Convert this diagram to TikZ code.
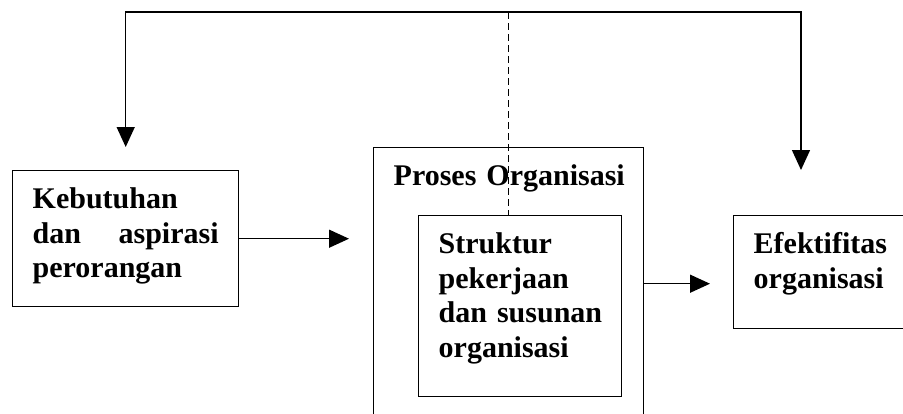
\documentclass[tikz,border=0pt]{standalone}
\usepackage{fontspec}
\setmainfont{Liberation Serif}
\usepackage{tikz}
\usetikzlibrary{positioning, arrows.meta}

\tikzset{
  box/.style={draw, line width=1.4pt, anchor=north west, inner xsep=20pt, inner ysep=0pt,
    align=left, text height=38pt,
    font=\fontsize{30}{34.5}\selectfont\bfseries},
  flow/.style={line width=1.4pt, -{Triangle[length=20pt,width=18pt]}}
}

\begin{document}
\begin{tikzpicture}[x=1pt, y=-1pt]
        \useasboundingbox (0,0) rectangle (903,413);
        \clip (0,0) rectangle (903,413);
        \node (kebutuhan) [box, text width=186pt, text depth=98pt] at (12,170)
          {Kebutuhan\\ dan\hfill aspirasi\\ perorangan};
        \node (proses) [box, text width=230pt, text depth=234pt] at (373,147)
          {\mbox{Proses Organisasi}};
        \node (struktur) [box, text width=163pt, text depth=143pt] at (418,215)
          {Struktur\\ pekerjaan\\ \mbox{dan susunan}\\ organisasi};
        \node (efektif) [box, text width=150pt, text depth=75pt] at (733,215)
          {Efektifitas\\ organisasi};
        \coordinate (topline) at (0,12);
        \coordinate (fb) at (proses.north |- topline);
        \draw [line width=1.4pt, dash pattern=on 7pt off 4pt] (fb) -- (fb |- struktur.north);
        \draw [flow, shorten >=23pt] (fb) -| (kebutuhan.north);
        \draw [flow, shorten >=45pt] (fb) -| ([xshift=68pt]efektif.north west);
        \draw [flow, shorten >=24pt] (kebutuhan.east) -- (kebutuhan.east -| proses.west);
        \draw [flow, shorten >=23pt] (proses.east) -- (proses.east -| efektif.west);
    \end{tikzpicture}
\end{document}
